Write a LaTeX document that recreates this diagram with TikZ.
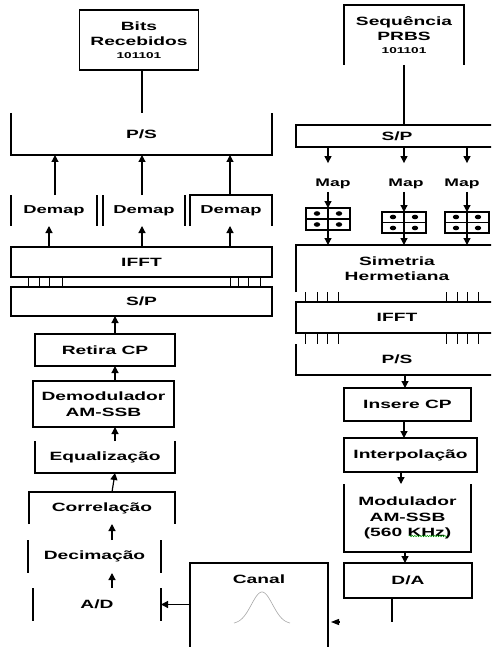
\documentclass[tikz,border=0pt]{standalone}
\usepackage{fontspec}
\setmainfont{Liberation Sans}
\usepackage{graphicx}
\usetikzlibrary{arrows.meta,decorations.pathmorphing}
\newcommand\W[1]{\scalebox{1.6}[1]{#1}}
\newcommand\fbig{\fontsize{12}{15.5}\selectfont\bfseries}
\newcommand\fsmall{\fontsize{8.5}{10}\selectfont\bfseries}
\newcommand\fdemap{\fontsize{11.5}{14}\selectfont\bfseries}
\newcommand\fmap{\fontsize{11}{13}\selectfont\bfseries}
\begin{document}
\begin{tikzpicture}[x=1pt,y=-1pt,line width=1.2pt,
  box/.style={inner sep=0pt,outer sep=0pt,align=center,font=\fbig},
  fbox/.style={box,draw},
  arr/.style={-{Triangle[length=7pt,width=7pt]}},
  tick/.style={line width=0.9pt}]
\clip (0,0) rectangle (491,647);
% ---------- helper columns ----------
\coordinate (bc) at (142,0);
\coordinate (a55) at (55,0);
\coordinate (a49) at (49,0);
\coordinate (a142) at (142,0);
\coordinate (a230) at (230,0);
\coordinate (lc) at (115,0);
\coordinate (lc2) at (112,0);
\coordinate (rc) at (404,0);
\coordinate (rc2) at (401,0);
\coordinate (rc3) at (405,0);
% ---------- left column ----------
\node[fbox,minimum width=119pt,minimum height=60pt] (bits) at (139,40)
  {\W{Bits}\\\W{Recebidos}\\[-3pt]{\fsmall\W{101101}}};
\node[box,minimum width=261pt,minimum height=42pt] (ps1) at (141.5,134) {\W{P/S}};
\draw (ps1.north west) -- (ps1.south west) -- (ps1.south east) -- (ps1.north east);
\draw (bc |- bits.south) -- (bc |- ps1.north);

\node[box,font=\fdemap,minimum width=86pt,minimum height=31pt] (dm1) at (54,210.5) {\W{Demap}};
\node[box,font=\fdemap,minimum width=82pt,minimum height=31pt] (dm2) at (144,210.5) {\W{Demap}};
\node[box,font=\fdemap,minimum width=82pt,minimum height=31pt] (dm3) at (231,210.5) {\W{Demap}};
\draw (dm1.north west) -- (dm1.south west) (dm1.north east) -- (dm1.south east);
\draw (dm2.north west) -- (dm2.south west) (dm2.north east) -- (dm2.south east);
\draw (dm3.south west) -- (dm3.north west) -- (dm3.north east) -- (dm3.south east);
\draw[arr] (a55 |- dm1.north) -- (a55 |- ps1.south);
\draw[arr] (a142 |- dm2.north) -- (a142 |- ps1.south);
\draw[arr] (a230 |- dm3.north) -- (a230 |- ps1.south);

\node[fbox,minimum width=261pt,minimum height=30pt] (ifft1) at (141.5,262) {\W{IFFT}};
\draw[arr] (a49 |- ifft1.north) -- (a49 |- dm1.south);
\draw[arr] (a142 |- ifft1.north) -- (a142 |- dm2.south);
\draw[arr] (a230 |- ifft1.north) -- (a230 |- dm3.south);

\node[fbox,minimum width=261pt,minimum height=29pt] (sp1) at (141.5,301.5) {\W{S/P}};
\foreach \x in {28,39,49,62,230,238,248,260}
  \draw[tick] (\x,0 |- ifft1.south) -- (\x,0 |- sp1.north);

\node[fbox,minimum width=140pt,minimum height=32pt] (retira) at (105,350) {\W{Retira CP}};
\draw[arr] (lc |- retira.north) -- (lc |- sp1.south);

\node[fbox,minimum width=141pt,minimum height=46pt] (demod) at (103.5,404)
  {\W{Demodulador}\\\W{AM-SSB}};
\draw[arr] (lc |- demod.north) -- (lc |- retira.south);

\node[box,minimum width=140pt,minimum height=32pt] (equal) at (105,457) {\W{Equalização}};
\draw (equal.north west) -- (equal.south west) -- (equal.south east) -- (equal.north east);
\draw[arr] (lc |- equal.north) -- (lc |- demod.south);

\node[box,minimum width=146pt,minimum height=32pt] (correl) at (102,508) {\W{Correlação}};
\draw (correl.south west) -- (correl.north west) -- (correl.north east) -- (correl.south east);
\draw[arr] (lc2 |- correl.north) -- (lc |- equal.south);

\node[box,minimum width=133pt,minimum height=33pt] (decim) at (94.5,556.5) {\W{Decimação}};
\draw (decim.north west) -- (decim.south west) (decim.north east) -- (decim.south east);
\draw[arr] (lc2 |- decim.north) -- (lc2 |- correl.south);

\node[box,minimum width=128pt,minimum height=33pt] (ad) at (97,604.5) {\W{A/D}};
\draw (ad.north west) -- (ad.south west) (ad.north east) -- (ad.south east);
\draw[arr] (lc2 |- ad.north) -- (lc2 |- decim.south);

% ---------- channel ----------
\node[box,minimum width=138pt,minimum height=84pt,
  label={[anchor=north,inner sep=0pt,yshift=-11pt,font=\fbig]north:\W{Canal}}] (canal) at (259,605) {};
\draw (canal.south west) -- (canal.north west) -- (canal.north east) -- (canal.south east);
\draw[gray!70,line width=0.6pt] plot[domain=-28:28,samples=60]
  ({262+\x},{624-32*exp(-((\x/15)*(\x/15)))});
\draw[arr] (canal.west |- ad.east) -- (ad.east);

% ---------- right column ----------
\node[box,minimum width=120pt,minimum height=60pt] (prbs) at (404,35)
  {\W{Sequência}\\\W{PRBS}\\[-3pt]{\fsmall\W{101101}}};
\draw (prbs.south west) -- (prbs.north west) -- (prbs.north east) -- (prbs.south east);

\node[fbox,minimum width=202pt,minimum height=22pt] (sp2) at (397,136) {\W{S/P}};
\draw (prbs.south) -- (prbs.south |- sp2.north);

\node[box,font=\fmap] (map1) at (333,184) {\W{Map}};
\node[box,font=\fmap] (map2) at (406,184) {\W{Map}};
\node[box,font=\fmap] (map3) at (462,184) {\W{Map}};

\node[fbox,minimum width=44pt,minimum height=22pt] (g1) at (328,219) {};
\node[fbox,minimum width=44pt,minimum height=21pt] (g2) at (404,222.5) {};
\node[fbox,minimum width=44pt,minimum height=21pt] (g3) at (467,222.5) {};
\foreach \g in {g1,g2,g3}{
  \draw (\g.north) -- (\g.south) (\g.west) -- (\g.east);
  \foreach \dx/\dy in {-11/-5.5,11/-5.5,-11/5.5,11/5.5}
    \fill (\g.center) ++(\dx,\dy) ellipse [x radius=3.2pt,y radius=2.3pt];
}
\foreach \m/\g in {map1/g1,map2/g2,map3/g3}{
  \draw[arr,shorten >=16pt] (\g.center |- sp2.south) -- (\g.center |- \m.north);
  \draw[arr,shorten <=3pt] (\g.center |- \m.south) -- (\g.north);
}

\node[box,minimum width=202pt,minimum height=47pt] (sim) at (397,268.5)
  {\W{Simetria}\\\W{Hermetiana}};
\draw (sim.south west) -- (sim.north west) -- (sim.north east);
\foreach \g in {g1,g2,g3}
  \draw[arr] (\g.south) -- (\g.south |- sim.north);

\node[fbox,minimum width=202pt,minimum height=31pt] (ifft2) at (397,317.5) {\W{IFFT}};
\node[box,minimum width=202pt,minimum height=31pt] (ps2) at (397,359.5) {\W{P/S}};
\draw (ps2.north west) -- (ps2.south west) -- (ps2.south east);
\foreach \x in {305,317,327,338,446,457,467,478}{
  \draw[tick] (\x,0 |- sim.south) -- (\x,0 |- ifft2.north);
  \draw[tick] (\x,0 |- ifft2.south) -- (\x,0 |- ps2.north);
}

\node[fbox,minimum width=127pt,minimum height=33pt] (insere) at (407.5,404.5) {\W{Insere CP}};
\draw[arr] (rc3 |- ps2.south) -- (rc3 |- insere.north);

\node[fbox,minimum width=133pt,minimum height=34pt] (interp) at (410.5,455) {\W{Interpolação}};
\draw[arr] (rc |- insere.south) -- (rc |- interp.north);

\node[box,minimum width=127pt,minimum height=68pt] (modul) at (407.5,518)
  {\W{Modulador}\\\W{AM-SSB}\\\W{(560 KHz)}};
\draw (modul.north west) -- (modul.south west) -- (modul.south east) -- (modul.north east);
\draw[arr] (rc2 |- interp.south) -- (rc2 |- modul.north);
\draw[green!60!black,line width=0.5pt,decorate,
  decoration={snake,amplitude=0.7pt,segment length=2.5pt}]
  (modul.center) ++(1.5,18) -- ++(38,0);

\node[fbox,minimum width=128pt,minimum height=35pt] (da) at (408,580.5) {\W{D/A}};
\draw[arr] (rc3 |- modul.south) -- (rc3 |- da.north);

\coordinate (dd) at (392,622);
\coordinate (dtip) at (331,622);
\draw (dd |- da.south) -- (dd);
\draw[-{Triangle[length=8pt,width=6pt]}] (dtip) ++(8,0) -- (dtip);
\end{tikzpicture}
\end{document}
